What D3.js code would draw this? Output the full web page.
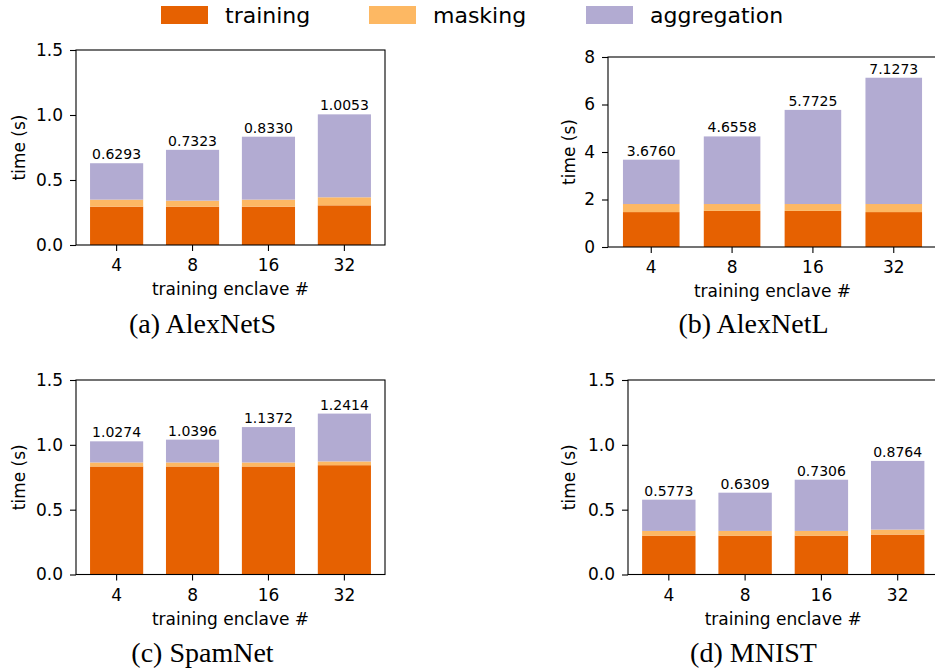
<!DOCTYPE html>
<html>
<head>
<meta charset="utf-8">
<script src="https://cdn.jsdelivr.net/npm/d3@7"></script>
<style>
  body { margin: 0; background: #fff; }
  svg { display: block; }
  text { font-family: "DejaVu Sans", sans-serif; fill: #000; }
  .caption { font-family: "Liberation Serif", serif; }
</style>
</head>
<body>
<svg id="chart" width="935" height="672"></svg>
<script>
// ===== DATA =====
const enclaves = ["4", "8", "16", "32"];
const seriesNames = ["training", "masking", "aggregation"];

// AlexNetS
const alexSTraining = [0.295, 0.295, 0.295, 0.305];
const alexSMasking = [0.054, 0.046, 0.054, 0.062];
const alexSAggregation = [0.280, 0.391, 0.484, 0.638];
const alexSTotals = ["0.6293", "0.7323", "0.8330", "1.0053"];

// AlexNetL
const alexLTraining = [1.47, 1.52, 1.52, 1.47];
const alexLMasking = [0.34, 0.29, 0.29, 0.34];
const alexLAggregation = [1.866, 2.846, 3.963, 5.317];
const alexLTotals = ["3.6760", "4.6558", "5.7725", "7.1273"];

// SpamNet
const spamTraining = [0.833, 0.833, 0.833, 0.843];
const spamMasking = [0.031, 0.031, 0.031, 0.029];
const spamAggregation = [0.163, 0.176, 0.273, 0.369];
const spamTotals = ["1.0274", "1.0396", "1.1372", "1.2414"];

// MNIST
const mnistTraining = [0.300, 0.300, 0.300, 0.308];
const mnistMasking = [0.036, 0.036, 0.036, 0.038];
const mnistAggregation = [0.241, 0.295, 0.395, 0.530];
const mnistTotals = ["0.5773", "0.6309", "0.7306", "0.8764"];

const yTicksSmall = [0, 0.5, 1.0, 1.5];
const yTicksLarge = [0, 2, 4, 6, 8];

const colors = ["#e66101", "#fdb863", "#b2abd2"];

// ===== LAYOUT =====
const panels = [
  { caption: "(a) AlexNetS", series: [alexSTraining, alexSMasking, alexSAggregation], totals: alexSTotals,
    ymax: 1.5, ticks: yTicksSmall, fmt: ".1f",
    left: 76, right: 385, top: 50, bottom: 245, ylabelX: 25, capX: 202.5, capY: 333 },
  { caption: "(b) AlexNetL", series: [alexLTraining, alexLMasking, alexLAggregation], totals: alexLTotals,
    ymax: 8, ticks: yTicksLarge, fmt: "d",
    left: 608, right: 937, top: 57, bottom: 247, ylabelX: 575, capX: 753.5, capY: 333 },
  { caption: "(c) SpamNet", series: [spamTraining, spamMasking, spamAggregation], totals: spamTotals,
    ymax: 1.5, ticks: yTicksSmall, fmt: ".1f",
    left: 76, right: 385, top: 380, bottom: 574.5, ylabelX: 25, capX: 202.5, capY: 662 },
  { caption: "(d) MNIST", series: [mnistTraining, mnistMasking, mnistAggregation], totals: mnistTotals,
    ymax: 1.5, ticks: yTicksSmall, fmt: ".1f",
    left: 628, right: 938.5, top: 380, bottom: 574.5, ylabelX: 575, capX: 753.5, capY: 662 }
];

const svg = d3.select("#chart");

// ===== PANELS =====
panels.forEach(p => {
  const x = d3.scaleBand()
    .domain(enclaves)
    .range([p.left, p.right])
    .paddingInner(0.3)
    .paddingOuter(0.185);

  const y = d3.scaleLinear()
    .domain([0, p.ymax])
    .range([p.bottom, p.top]);

  const rows = enclaves.map((e, i) => {
    const r = { enclave: e };
    seriesNames.forEach((s, k) => r[s] = p.series[k][i]);
    return r;
  });

  const stacked = d3.stack().keys(seriesNames)(rows);

  const g = svg.append("g");

  g.selectAll("g.layer")
    .data(stacked)
    .enter()
    .append("g")
    .attr("fill", (d, i) => colors[i])
    .selectAll("rect")
    .data(d => d)
    .enter()
    .append("rect")
    .attr("x", d => x(d.data.enclave))
    .attr("width", x.bandwidth())
    .attr("y", d => y(d[1]))
    .attr("height", d => y(d[0]) - y(d[1]));

  // total labels
  const top = stacked[stacked.length - 1];
  g.selectAll("text.total")
    .data(top)
    .enter()
    .append("text")
    .attr("class", "total")
    .attr("x", d => x(d.data.enclave) + x.bandwidth() / 2)
    .attr("y", d => y(d[1]) - 4)
    .attr("text-anchor", "middle")
    .attr("font-size", 14)
    .text((d, i) => p.totals[i]);

  // axes
  const xAxis = g.append("g")
    .attr("transform", `translate(0,${p.bottom})`)
    .call(d3.axisBottom(x).tickSize(6).tickPadding(8).tickSizeOuter(0));

  const yAxis = g.append("g")
    .attr("transform", `translate(${p.left},0)`)
    .call(d3.axisLeft(y).tickValues(p.ticks).tickFormat(d3.format(p.fmt)).tickSize(6).tickPadding(7).tickSizeOuter(0));

  [xAxis, yAxis].forEach(a => {
    a.select(".domain").remove();
    a.selectAll("text").attr("font-size", 17).attr("font-family", "DejaVu Sans");
    a.selectAll("line").attr("stroke", "#000").attr("stroke-width", 1.1);
  });

  // frame
  g.append("rect")
    .attr("x", p.left)
    .attr("y", p.top)
    .attr("width", p.right - p.left)
    .attr("height", p.bottom - p.top)
    .attr("fill", "none")
    .attr("stroke", "#000")
    .attr("stroke-width", 1.1);

  // axis labels
  g.append("text")
    .attr("x", (p.left + p.right) / 2)
    .attr("y", p.bottom + 50)
    .attr("text-anchor", "middle")
    .attr("font-size", 17)
    .text("training enclave #");

  g.append("text")
    .attr("transform", `translate(${p.ylabelX},${(p.top + p.bottom) / 2}) rotate(-90)`)
    .attr("text-anchor", "middle")
    .attr("font-size", 17)
    .text("time (s)");

  // caption
  g.append("text")
    .attr("class", "caption")
    .attr("x", p.capX)
    .attr("y", p.capY)
    .attr("text-anchor", "middle")
    .attr("font-size", 28)
    .text(p.caption);
});

// ===== LEGEND =====
const legendX = [161, 369, 586];
const legend = svg.append("g");

seriesNames.forEach((s, i) => {
  legend.append("rect")
    .attr("x", legendX[i])
    .attr("y", 6)
    .attr("width", 47)
    .attr("height", 18)
    .attr("fill", colors[i]);

  legend.append("text")
    .attr("x", legendX[i] + 64)
    .attr("y", 23)
    .attr("font-size", 22)
    .text(s);
});
</script>
</body>
</html>
